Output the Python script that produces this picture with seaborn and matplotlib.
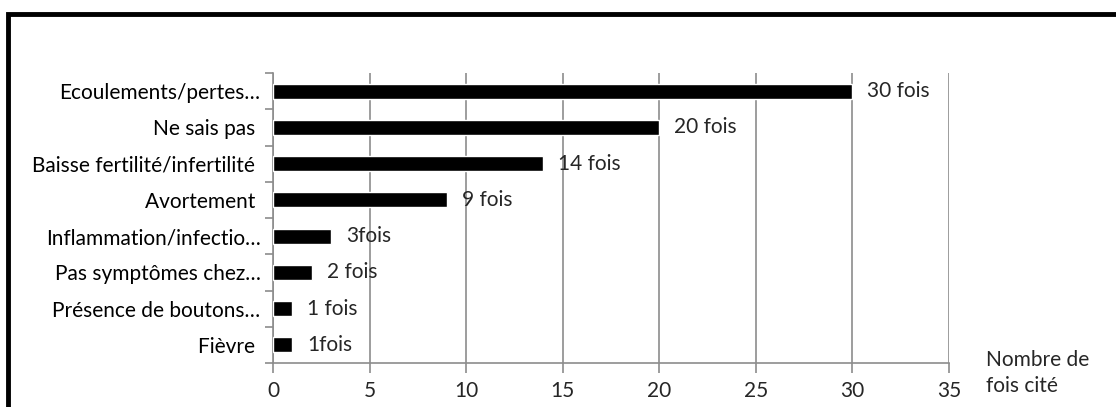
import numpy as np
import pandas as pd
import matplotlib
matplotlib.use("Agg")
import matplotlib.pyplot as plt
import seaborn as sns
from matplotlib.patches import Rectangle

# Données
categories = [
    "Ecoulements/pertes…",
    "Ne sais pas ",
    "Baisse fertilité/infertilité ",
    "Avortement ",
    "Inflammation/infectio…",
    "Pas symptômes chez…",
    "Présence de boutons…",
    "Fièvre ",
]
valeurs = [30, 20, 14, 9, 3, 2, 1, 1]
etiquettes = ["30 fois", "20 fois", "14 fois", "9 fois", "3fois", "2 fois", "1 fois", "1fois"]

df = pd.DataFrame({"cat": categories, "val": valeurs})

sns.set_theme(style="white")
plt.rcParams["font.family"] = ["Lato", "DejaVu Sans"]
fs = 15

fig = plt.figure(figsize=(11.16, 4.07), dpi=100)
ax = fig.add_axes([273 / 1116, 1 - 363 / 407, (949 - 273) / 1116, (363 - 73) / 407])

sns.barplot(data=df, x="val", y="cat", orient="h", color="black", width=0.42,
            saturation=1, ax=ax, zorder=3)

grid_col = "#8c8c8c"
ax.set_xlim(0, 35)
ax.set_ylim(7.5, -0.5)
ax.set_xticks(np.arange(0, 36, 5))
ax.grid(axis="x", color=grid_col, lw=1.2, zorder=0)
ax.set_xlabel("")
ax.set_ylabel("")

# Graduations des catégories
ax.set_yticks(range(len(categories)), categories)
ax.set_yticks(np.arange(-0.5, len(categories), 1), minor=True)
ax.tick_params(axis="y", which="major", length=0, pad=9, labelsize=fs, colors="black")
ax.tick_params(axis="y", which="minor", length=6, width=1.2, color=grid_col, direction="out", left=True)
ax.tick_params(axis="x", which="major", length=7, width=1.2, color=grid_col, direction="out",
               bottom=True, pad=6, labelsize=fs)

for s in ["top", "right"]:
    ax.spines[s].set_visible(False)
for s in ["left", "bottom"]:
    ax.spines[s].set_color(grid_col)
    ax.spines[s].set_linewidth(1.2)

# Étiquettes de données
for i, (v, t) in enumerate(zip(valeurs, etiquettes)):
    ax.annotate(t, (v, i), xytext=(15, 0), textcoords="offset pixels",
                va="center", ha="left", fontsize=fs)

fig.text(986 / 1116, 1 - 373 / 407, "Nombre de\nfois cité", ha="left", va="center",
         fontsize=fs, linespacing=1.35)

# Cadre
fig.patches.append(Rectangle((7.5 / 1116, -0.1), 1.2, 1 - 14 / 407 + 0.1,
                             transform=fig.transFigure, fill=False, ec="black", lw=3.5))

fig.savefig("out.png", dpi=100)
